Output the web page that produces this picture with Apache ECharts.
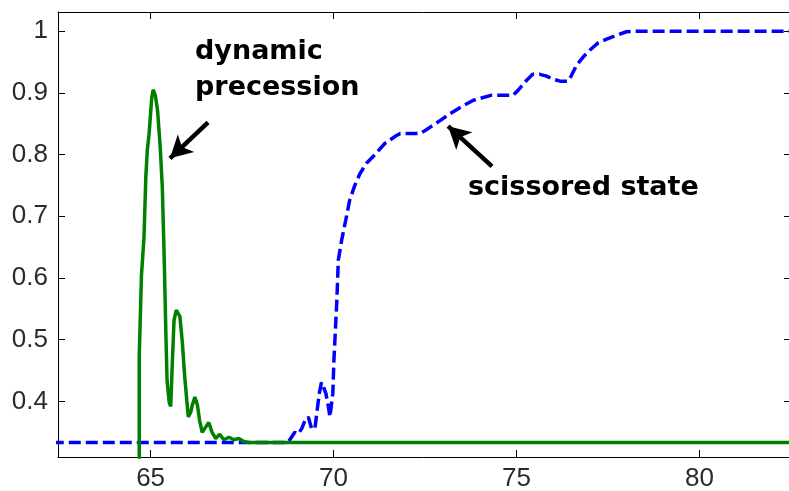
<!DOCTYPE html>
<html>
<head>
<meta charset="utf-8">
<title>dynamic precession / scissored state</title>
<script src="https://cdn.jsdelivr.net/npm/echarts@6/dist/echarts.min.js"></script>
<style>
	html, body { margin: 0; padding: 0; background: #fff; }
	#main { width: 789px; height: 491px; }
</style>
</head>
<body>
<div id="main"></div>
<script>
// tick labels
var xTicks = [65, 70, 75, 80];
var yTicks = [0.4, 0.5, 0.6, 0.7, 0.8, 0.9, 1];

// green solid curve (dynamic precession)
var precessionX = [64.69, 64.69, 64.75, 64.82, 64.87, 64.91, 64.96, 65.03, 65.07, 65.13, 65.19, 65.26, 65.32, 65.37,
	65.42, 65.45, 65.51, 65.55, 65.60, 65.64, 65.70, 65.75, 65.80, 65.87, 65.93, 65.98, 66.03, 66.10, 66.14, 66.21,
	66.28, 66.34, 66.41, 66.50, 66.59, 66.68, 66.78, 66.89, 67.00, 67.14, 67.28, 67.41, 67.55, 67.70, 82.6];
var precessionY = [0.25, 0.472, 0.604, 0.666, 0.764, 0.807, 0.834, 0.891, 0.905, 0.896, 0.872, 0.815, 0.748, 0.637,
	0.504, 0.434, 0.398, 0.392, 0.472, 0.531, 0.548, 0.550, 0.538, 0.494, 0.442, 0.408, 0.375, 0.383, 0.394, 0.407,
	0.394, 0.369, 0.350, 0.358, 0.366, 0.350, 0.340, 0.347, 0.338, 0.342, 0.338, 0.340, 0.335, 0.3333, 0.3333];

// blue dashed curve (scissored state)
var scissoredX = [62.3, 68.75, 68.85, 68.94, 69.03, 69.13, 69.22, 69.31, 69.40, 69.49, 69.55, 69.61, 69.67, 69.72,
	69.79, 69.86, 69.90, 69.98, 70.01, 70.09, 70.13, 70.22, 70.33, 70.44, 70.58, 70.72, 70.90, 71.10, 71.40, 71.72,
	71.82, 72.37, 72.63, 72.91, 73.18, 73.45, 73.82, 74.00, 74.30, 74.90, 75.04, 75.27, 75.44, 75.64, 75.82, 76.00,
	76.19, 76.41, 76.50, 76.64, 76.82, 77.00, 77.23, 77.46, 77.73, 78.00, 78.37, 82.6];
var scissoredY = [0.3333, 0.3333, 0.342, 0.350, 0.347, 0.356, 0.369, 0.375, 0.356, 0.356, 0.385, 0.413, 0.431, 0.424,
	0.413, 0.391, 0.375, 0.413, 0.467, 0.564, 0.629, 0.661, 0.693, 0.726, 0.750, 0.769, 0.786, 0.798, 0.818, 0.831,
	0.834, 0.834, 0.844, 0.855, 0.866, 0.876, 0.888, 0.891, 0.896, 0.896, 0.904, 0.920, 0.930, 0.930, 0.927, 0.922,
	0.919, 0.919, 0.928, 0.945, 0.958, 0.969, 0.981, 0.987, 0.993, 0.999, 1.0, 1.0];

function pairs(xs, ys) {
	var out = [];
	for (var i = 0; i < xs.length; i++) out.push([xs[i], ys[i]]);
	return out;
}

var X_MIN = 62.47, X_MAX = 82.5, Y_MIN = 0.31, Y_MAX = 1.031;
var labelFont = { fontFamily: 'Liberation Sans', fontSize: 26, color: '#2a2a2a' };
var noteFont = 'bold 27px "DejaVu Sans"';

var chart = echarts.init(document.getElementById('main'));
var option = {
	animation: false,
	backgroundColor: '#fff',
	grid: { left: 58, right: -2, top: 12, bottom: 34, outerBoundsMode: 'none' },
	xAxis: [
		{
			type: 'value', min: X_MIN, max: X_MAX,
			axisLine: { show: true, lineStyle: { color: '#000', width: 1 } },
			axisTick: { inside: true, length: 7, customValues: xTicks, lineStyle: { color: '#000' } },
			axisLabel: Object.assign({ customValues: xTicks, margin: 9 }, labelFont),
			splitLine: { show: false }
		},
		{
			type: 'value', position: 'top', min: X_MIN, max: X_MAX,
			axisLine: { show: true, lineStyle: { color: '#000', width: 1 } },
			axisTick: { inside: true, length: 7, customValues: xTicks, lineStyle: { color: '#000' } },
			axisLabel: { show: false },
			splitLine: { show: false }
		}
	],
	yAxis: [
		{
			type: 'value', min: Y_MIN, max: Y_MAX,
			axisLine: { show: true, lineStyle: { color: '#000', width: 1 } },
			axisTick: { inside: true, length: 7, customValues: yTicks, lineStyle: { color: '#000' } },
			axisLabel: Object.assign({ customValues: yTicks, margin: 10 }, labelFont),
			splitLine: { show: false }
		},
		{
			type: 'value', position: 'right', min: Y_MIN, max: Y_MAX,
			axisLine: { show: true, lineStyle: { color: '#000', width: 1 } },
			axisTick: { inside: true, length: 7, customValues: yTicks, lineStyle: { color: '#000' } },
			axisLabel: { show: false },
			splitLine: { show: false }
		}
	],
	series: [
		{
			name: 'scissored state',
			type: 'line',
			data: pairs(scissoredX, scissoredY),
			showSymbol: false,
			clip: true,
			lineStyle: { color: '#0000ff', width: 3.5, type: [12, 5] }
		},
		{
			name: 'dynamic precession',
			type: 'line',
			data: pairs(precessionX, precessionY),
			showSymbol: false,
			clip: true,
			lineStyle: { color: '#008000', width: 3.5 },
			markLine: {
				silent: true,
				symbol: ['none', 'arrow'],
				symbolSize: [18, 22],
				label: { show: false },
				lineStyle: { color: '#000', width: 4.5, type: 'solid' },
				data: [
					[{ coord: [66.57, 0.852] }, { coord: [65.53, 0.794] }],
					[{ coord: [74.33, 0.781] }, { coord: [73.13, 0.846] }]
				]
			}
		}
	],
	graphic: [
		{ type: 'text', x: 195, y: 52, style: { text: 'dynamic', font: noteFont, fill: '#000', verticalAlign: 'middle' } },
		{ type: 'text', x: 195, y: 88, style: { text: 'precession', font: noteFont, fill: '#000', verticalAlign: 'middle' } },
		{ type: 'text', x: 468, y: 188, style: { text: 'scissored state', font: noteFont, fill: '#000', verticalAlign: 'middle' } }
	]
};
chart.setOption(option);
</script>
</body>
</html>
